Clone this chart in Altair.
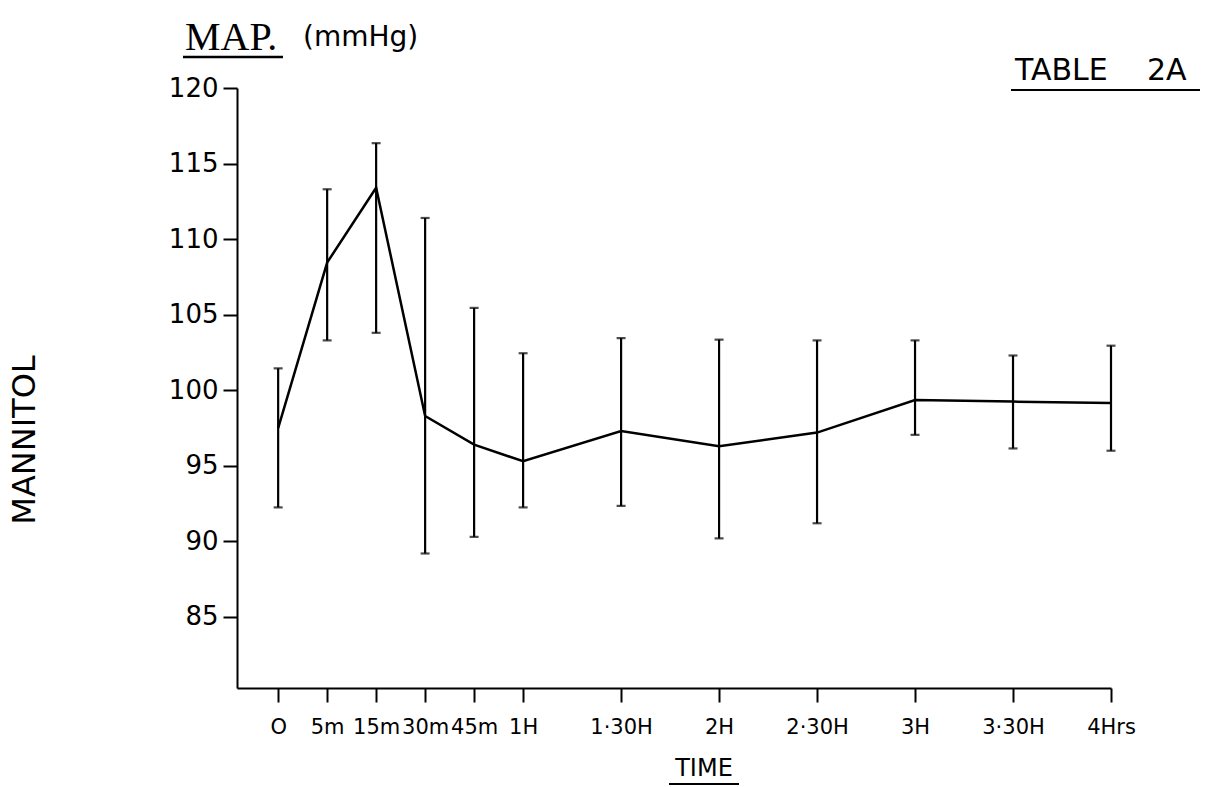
import json
import altair as alt
import pandas as pd

# --- data ---
labels = ["O", "5m", "15m", "30m", "45m", "1H", "1·30H", "2H", "2·30H", "3H", "3·30H", "4Hrs"]
pos = [0, 1, 2, 3, 4, 5, 7, 9, 11, 13, 15, 17]
means = [97.5, 108.45, 113.4, 98.3, 96.4, 95.3, 97.3, 96.3, 97.2, 99.35, 99.25, 99.15]
upper = [101.45, 113.3, 116.35, 111.4, 105.45, 102.45, 103.45, 103.35, 103.3, 103.3, 102.3, 102.95]
lower = [92.25, 103.3, 103.8, 89.2, 90.3, 92.25, 92.35, 90.2, 91.2, 97.05, 96.15, 96.0]
y_ticks = [85, 90, 95, 100, 105, 110, 115, 120]

df = pd.DataFrame({"pos": pos, "label": labels, "mean": means, "upper": upper, "lower": lower})

FONT = "DejaVu Sans"
label_expr = "{}[indexof({}, datum.value)]".format(json.dumps(labels), json.dumps(pos))

x_scale = alt.Scale(domain=[-0.84, 17], nice=False, zero=False)
y_scale = alt.Scale(domain=[80.3, 120], nice=False, zero=False)

x_axis = alt.Axis(values=pos, labelExpr=label_expr, title=None, grid=False,
                  tickSize=14, tickWidth=2, tickColor="black", domainColor="black",
                  domainWidth=2, labelFont=FONT, labelFontSize=21, labelColor="black",
                  labelPadding=14, labelFlush=False, labelOverlap=False)
y_axis = alt.Axis(values=y_ticks, title=None, grid=False,
                  tickSize=14, tickWidth=2, tickColor="black", domainColor="black",
                  domainWidth=2, labelFont=FONT, labelFontSize=26, labelColor="black",
                  labelPadding=5)

base = alt.Chart(df)

line = base.mark_line(color="black", strokeWidth=2.5).encode(
    x=alt.X("pos:Q", scale=x_scale, axis=x_axis),
    y=alt.Y("mean:Q", scale=y_scale, axis=y_axis),
)
bars = base.mark_rule(color="black", strokeWidth=2.2).encode(
    x="pos:Q", y="lower:Q", y2="upper:Q"
)
cap_hi = base.mark_tick(color="black", orient="horizontal", size=9, thickness=2.2).encode(
    x="pos:Q", y="upper:Q"
)
cap_lo = base.mark_tick(color="black", orient="horizontal", size=9, thickness=2.2).encode(
    x="pos:Q", y="lower:Q"
)

ann = pd.DataFrame({"t": [0]})
abase = alt.Chart(ann)

map_txt = abase.mark_text(text="MAP.", font="Liberation Serif", fontSize=40, align="left",
                          baseline="alphabetic", color="black").encode(
    x=alt.value(-52), y=alt.value(-38))
map_ul = abase.mark_rule(color="black", strokeWidth=2.5).encode(
    x=alt.value(-54), x2=alt.value(46), y=alt.value(-31))
mmhg = abase.mark_text(text="(mmHg)", font=FONT, fontSize=28, align="left",
                       baseline="alphabetic", color="black").encode(
    x=alt.value(66), y=alt.value(-42))
table1 = abase.mark_text(text="TABLE", font=FONT, fontSize=30, align="left",
                         baseline="alphabetic", color="black").encode(
    x=alt.value(778), y=alt.value(-8))
table2 = abase.mark_text(text="2A", font=FONT, fontSize=30, align="left",
                         baseline="alphabetic", color="black").encode(
    x=alt.value(910), y=alt.value(-8))
table_ul = abase.mark_rule(color="black", strokeWidth=2).encode(
    x=alt.value(774), x2=alt.value(963), y=alt.value(2))
time_txt = abase.mark_text(text="TIME", font=FONT, fontSize=24, align="center",
                           baseline="alphabetic", color="black").encode(
    x=alt.value(467), y=alt.value(688))
time_ul = abase.mark_rule(color="black", strokeWidth=2).encode(
    x=alt.value(432), x2=alt.value(502), y=alt.value(696))
mannitol = abase.mark_text(text="MANNITOL", font=FONT, fontSize=32, angle=270,
                           align="center", baseline="middle", color="black").encode(
    x=alt.value(-212), y=alt.value(352))

chart = alt.layer(
    bars, cap_hi, cap_lo, line,
    map_txt, map_ul, mmhg, table1, table2, table_ul, time_txt, time_ul, mannitol
).properties(
    width=874, height=600,
    autosize=alt.AutoSizeParams(type="none"),
    padding={"left": 237, "top": 88, "right": 117, "bottom": 99},
    background="white",
).configure_view(stroke=None)

chart.save("out.html", embed_options={"renderer": "svg", "actions": False})
